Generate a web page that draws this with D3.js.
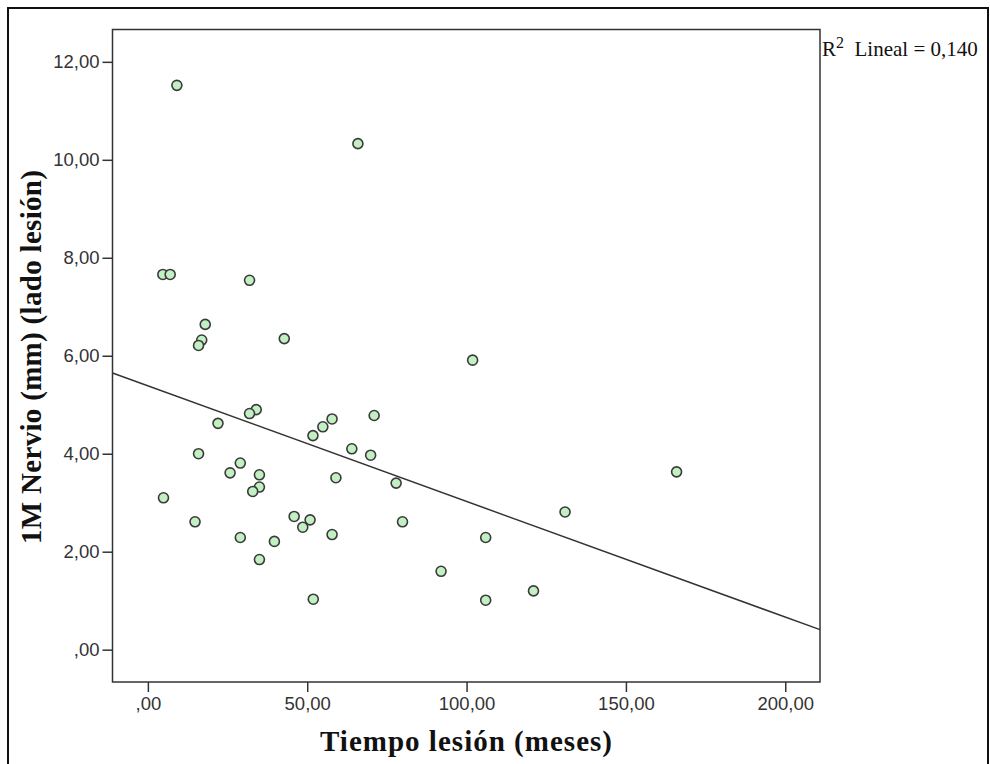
<!DOCTYPE html>
<html lang="es">
<head>
<meta charset="UTF-8">
<title>Tiempo lesión vs 1M Nervio</title>
<script src="https://d3js.org/d3.v7.min.js"></script>
<style>
    body { margin: 0; background: #fff; }
    .tick text { font-family: 'Liberation Sans', Arial, sans-serif; font-size: 18.5px; fill: #333; }
    .tick line { stroke: #333; stroke-width: 1.5; }
    .domain { display: none; }
</style>
</head>
<body>
<div id="chart"></div>
<script>
// values
const tiempo = [9.1, 65.9, 4.7, 7.0, 31.9, 18.0, 16.9, 15.9, 42.8, 101.9,
    165.9, 130.9, 106.0, 92.0, 106.0, 121.0, 51.9, 34.0, 31.9, 22.0,
    57.8, 54.9, 51.8, 71.0, 15.9, 29.0, 25.8, 35.0, 35.0, 32.9,
    64.0, 69.9, 59.0, 77.9, 4.9, 14.8, 45.9, 50.9, 48.6, 57.8,
    79.9, 29.0, 39.7, 35.0];
const nervio = [11.52, 10.33, 7.66, 7.66, 7.54, 6.64, 6.32, 6.21, 6.35, 5.91,
    3.63, 2.81, 2.29, 1.60, 1.01, 1.20, 1.03, 4.90, 4.82, 4.62,
    4.71, 4.55, 4.37, 4.78, 4.00, 3.81, 3.61, 3.57, 3.32, 3.23,
    4.10, 3.97, 3.51, 3.40, 3.10, 2.61, 2.72, 2.65, 2.50, 2.35,
    2.61, 2.29, 2.21, 1.84];
const xTicks = [0, 50, 100, 150, 200];
const yTicks = [0, 2, 4, 6, 8, 10, 12];
const fitIntercept = 5.386;
const fitSlope = -0.0236;
const r2Label = "0,140";

const W = 990, H = 764;
const plotL = 112.5, plotT = 29.5, plotR = 820, plotB = 682;

const svg = d3.select("#chart").append("svg")
    .attr("width", W)
    .attr("height", H);

// outer frame
svg.append("rect")
    .attr("x", 8).attr("y", 8)
    .attr("width", 980).attr("height", 800)
    .attr("fill", "none")
    .attr("stroke", "#111")
    .attr("stroke-width", 2);

const x = d3.scaleLinear().domain([-11.1, 210.9]).range([plotL, plotR]);
const y = d3.scaleLinear().domain([-0.66, 12.66]).range([plotB, plotT]);

const fmt = d => d === 0 ? ",00" : d3.format(".2f")(d).replace(".", ",");

svg.append("g")
    .attr("transform", `translate(0,${plotB})`)
    .call(d3.axisBottom(x).tickValues(xTicks).tickSize(10).tickPadding(5).tickFormat(fmt));

svg.append("g")
    .attr("transform", `translate(${plotL},0)`)
    .call(d3.axisLeft(y).tickValues(yTicks).tickSize(10).tickPadding(3).tickFormat(fmt));

// plot frame
svg.append("rect")
    .attr("x", plotL).attr("y", plotT)
    .attr("width", plotR - plotL).attr("height", plotB - plotT)
    .attr("fill", "none")
    .attr("stroke", "#333")
    .attr("stroke-width", 1.5);

// fit line
svg.append("line")
    .attr("x1", x(-11.1)).attr("y1", y(fitIntercept + fitSlope * -11.1))
    .attr("x2", x(210.9)).attr("y2", y(fitIntercept + fitSlope * 210.9))
    .attr("stroke", "#333")
    .attr("stroke-width", 1.5);

svg.append("g")
    .selectAll("circle")
    .data(tiempo.map((t, i) => [t, nervio[i]]))
    .join("circle")
    .attr("cx", d => x(d[0]))
    .attr("cy", d => y(d[1]))
    .attr("r", 5)
    .attr("fill", "#c2f0c2")
    .attr("stroke", "#3a3a3a")
    .attr("stroke-width", 1.6);

// axis titles
svg.append("text")
    .attr("x", 466)
    .attr("y", 751)
    .attr("text-anchor", "middle")
    .attr("textLength", 292)
    .attr("lengthAdjust", "spacing")
    .style("font-family", "'Liberation Serif', 'Times New Roman', serif")
    .style("font-weight", "bold")
    .style("font-size", "29px")
    .style("fill", "#111")
    .text("Tiempo lesión (meses)");

svg.append("text")
    .attr("transform", "translate(41,357) rotate(-90)")
    .attr("text-anchor", "middle")
    .attr("textLength", 374)
    .attr("lengthAdjust", "spacing")
    .style("font-family", "'Liberation Serif', 'Times New Roman', serif")
    .style("font-weight", "bold")
    .style("font-size", "29px")
    .style("fill", "#111")
    .text("1M Nervio (mm) (lado lesión)");

// R² label
const r2 = svg.append("text")
    .attr("x", 822)
    .attr("y", 56)
    .style("font-family", "'Liberation Serif', 'Times New Roman', serif")
    .style("font-size", "21px")
    .style("fill", "#111");
r2.append("tspan").text("R");
r2.append("tspan").attr("dy", -8).style("font-size", "16px").text("2");
r2.append("tspan").attr("dy", 8).text("\u00a0\u00a0Lineal = " + r2Label);
</script>
</body>
</html>
